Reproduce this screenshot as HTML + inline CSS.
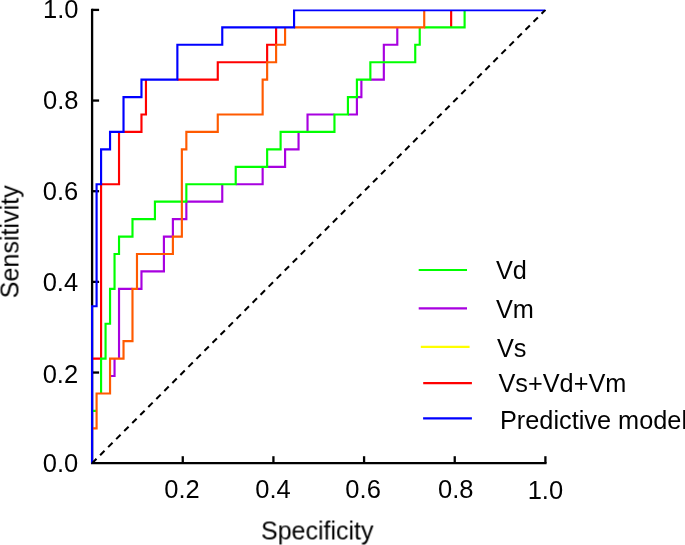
<!DOCTYPE html>
<html lang="en">
<head>
<meta charset="utf-8">
<title>ROC curves</title>
<style>
html,body{margin:0;padding:0;background:#fff;}
body{width:685px;height:545px;overflow:hidden;}
svg{display:block;}
</style>
</head>
<body>
<svg width="685" height="545" viewBox="0 0 685 545">
<rect width="685" height="545" fill="#fff"/>
<g stroke="#000" stroke-width="2.30" fill="none" stroke-linecap="butt">
<path d="M92.10,8.75 L92.10,463.20 L546.55,463.20"/>
<path d="M92.10,372.54 h7"/>
<path d="M182.76,463.20 v-7"/>
<path d="M92.10,281.88 h7"/>
<path d="M273.42,463.20 v-7"/>
<path d="M92.10,191.22 h7"/>
<path d="M364.08,463.20 v-7"/>
<path d="M92.10,100.56 h7"/>
<path d="M454.74,463.20 v-7"/>
<path d="M92.10,9.90 h7"/>
<path d="M545.40,463.20 v-7"/>
</g>
<path d="M92.10,358.59 L101.08,358.59 L101.08,184.25 L119.03,184.25 L119.03,131.94 M123.52,131.94 L141.47,131.94 L141.47,114.51 L145.96,114.51 L145.96,79.64 M177.37,79.64 L217.77,79.64 L217.77,62.20 L267.14,62.20 L267.14,44.77 L276.11,44.77 L276.11,27.33 M451.15,27.33 L451.15,9.90" stroke="#ff0000" stroke-width="2.15" fill="none" stroke-linejoin="miter"/>
<path d="M110.05,376.03 L114.54,376.03 L114.54,358.59 M119.03,358.59 L119.03,288.85 L132.49,288.85 M136.98,288.85 L141.47,288.85 L141.47,271.42 L163.91,271.42 L163.91,236.55 L172.89,236.55 L172.89,219.12 L186.35,219.12 L186.35,201.68 L222.26,201.68 L222.26,184.25 M235.72,184.25 L262.65,184.25 L262.65,166.81 M267.14,166.81 L285.09,166.81 L285.09,149.38 L298.55,149.38 L298.55,131.94 M307.53,131.94 L307.53,114.51 L334.46,114.51 M347.92,114.51 L356.90,114.51 L356.90,97.07 L361.39,97.07 L361.39,79.64 M370.36,79.64 L383.83,79.64 L383.83,44.77 L397.29,44.77 L397.29,27.33" stroke="#a800e0" stroke-width="2.15" fill="none" stroke-linejoin="miter"/>
<path d="M92.10,410.90 L96.59,410.90 M101.08,393.46 L101.08,358.59 L105.56,358.59 L105.56,323.72 L110.05,323.72 L110.05,288.85 L114.54,288.85 L114.54,253.98 L119.03,253.98 L119.03,236.55 L132.49,236.55 L132.49,219.12 L154.93,219.12 L154.93,201.68 L186.35,201.68 L186.35,184.25 L235.72,184.25 L235.72,166.81 L267.14,166.81 L267.14,149.38 L280.60,149.38 L280.60,131.94 L334.46,131.94 L334.46,114.51 L347.92,114.51 L347.92,97.07 L356.90,97.07 L356.90,79.64 L370.36,79.64 L370.36,62.20 L415.24,62.20 L415.24,44.77 L419.73,44.77 L419.73,27.33 M424.22,27.33 L464.61,27.33 L464.61,9.90" stroke="#00ff00" stroke-width="2.15" fill="none" stroke-linejoin="miter"/>
<path d="M92.10,428.33 L96.59,428.33 L96.59,393.46 L110.05,393.46 L110.05,358.59 L123.52,358.59 L123.52,341.16 L132.49,341.16 L132.49,288.85 L136.98,288.85 L136.98,253.98 L172.89,253.98 L172.89,236.55 L181.86,236.55 L181.86,149.38 L186.35,149.38 L186.35,131.94 L217.77,131.94 L217.77,114.51 L262.65,114.51 L262.65,79.64 L267.14,79.64 L267.14,62.20 L276.11,62.20 L276.11,44.77 L285.09,44.77 L285.09,27.33 M294.07,27.33 L424.22,27.33 L424.22,9.90" stroke="#ff5a00" stroke-width="2.15" fill="none" stroke-linejoin="miter"/>
<path d="M92.10,463.20 L92.10,306.29 L96.59,306.29 L96.59,184.25 L101.08,184.25 L101.08,149.38 L110.05,149.38 L110.05,131.94 L123.52,131.94 L123.52,97.07 L141.47,97.07 L141.47,79.64 L177.37,79.64 L177.37,44.77 L222.26,44.77 L222.26,27.33 L294.07,27.33 L294.07,9.90" stroke="#0000ff" stroke-width="2.15" fill="none" stroke-linejoin="miter"/>
<path d="M292.99,10.30 L545.40,10.30" stroke="#0000ff" stroke-width="1.8" fill="none"/>
<clipPath id="pc"><rect x="89.10" y="9.70" width="457.50" height="456.30"/></clipPath>
<path clip-path="url(#pc)" d="M92.10,463.20 L545.40,9.90" stroke="#000" stroke-width="2.05" stroke-dasharray="6.2 5.15" fill="none"/>
<path d="M418.7,270.0 H467.0" stroke="#00ff00" stroke-width="2.15" fill="none"/>
<path d="M418.7,308.3 H467.0" stroke="#a800e0" stroke-width="2.15" fill="none"/>
<path d="M420.8,346.9 H469.6" stroke="#ffff00" stroke-width="2.15" fill="none"/>
<path d="M423.2,383.1 H471.9" stroke="#ff0000" stroke-width="2.15" fill="none"/>
<path d="M423.1,418.4 H471.9" stroke="#0000ff" stroke-width="2.15" fill="none"/>
<g font-family="&quot;Liberation Sans&quot;, sans-serif" font-size="25.15" fill="#000" opacity="0.999">
<text transform="translate(495.90,279.40) matrix(1 0.0004 0 1 0 0)" font-size="25.3">Vd</text>
<text transform="translate(495.90,318.40) matrix(1 0.0004 0 1 0 0)" font-size="25.3">Vm</text>
<text transform="translate(497.00,356.70) matrix(1 0.0004 0 1 0 0)" font-size="25.3">Vs</text>
<text transform="translate(498.45,392.35) matrix(1 0.0004 0 1 0 0)" font-size="25.3">Vs+Vd+Vm</text>
<text transform="translate(500.00,428.60) matrix(1 0.0004 0 1 0 0)" font-size="25.3">Predictive model</text>
<text transform="translate(78.30,471.95) matrix(1 0.0004 0 1 0 0)" text-anchor="end" font-size="25.5">0.0</text>
<text transform="translate(78.10,382.69) matrix(1 0.0004 0 1 0 0)" text-anchor="end" font-size="25.5">0.2</text>
<text transform="translate(78.10,291.13) matrix(1 0.0004 0 1 0 0)" text-anchor="end" font-size="25.5">0.4</text>
<text transform="translate(78.30,199.97) matrix(1 0.0004 0 1 0 0)" text-anchor="end" font-size="25.5">0.6</text>
<text transform="translate(78.50,109.31) matrix(1 0.0004 0 1 0 0)" text-anchor="end" font-size="25.5">0.8</text>
<text transform="translate(78.50,18.45) matrix(1 0.0004 0 1 0 0)" text-anchor="end" font-size="25.5">1.0</text>
<text transform="translate(182.06,498.30) matrix(1 0.0004 0 1 0 0)" text-anchor="middle" font-size="25.5">0.2</text>
<text transform="translate(273.07,498.35) matrix(1 0.0004 0 1 0 0)" text-anchor="middle" font-size="25.5">0.4</text>
<text transform="translate(363.08,498.35) matrix(1 0.0004 0 1 0 0)" text-anchor="middle" font-size="25.5">0.6</text>
<text transform="translate(455.69,498.35) matrix(1 0.0004 0 1 0 0)" text-anchor="middle" font-size="25.5">0.8</text>
<text transform="translate(545.40,498.80) matrix(1 0.0004 0 1 0 0)" text-anchor="middle" font-size="25.5">1.0</text>
<text transform="translate(317.30,539.50) matrix(1 0.0004 0 1 0 0)" text-anchor="middle" font-size="25.0">Specificity</text>
<text transform="translate(18.50,241.80) rotate(-90) matrix(1 0.0004 0 1 0 0)" text-anchor="middle">Sensitivity</text>
</g>
</svg>
</body>
</html>
